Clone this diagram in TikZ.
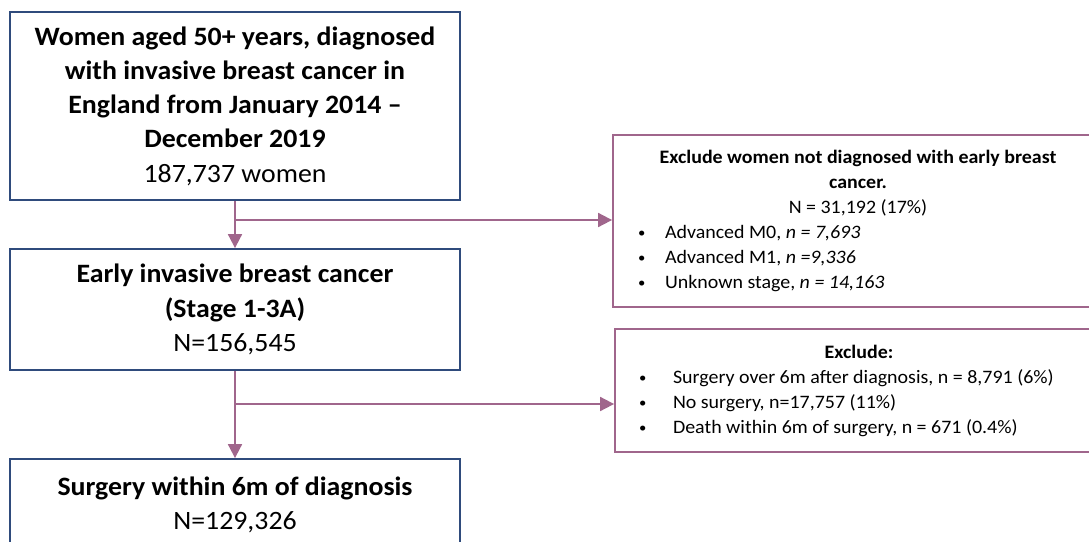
\documentclass[tikz,border=0pt]{standalone}
\usepackage{fontspec}
\setmainfont{Carlito}[FakeStretch=1.05]
\usepackage{tikz}
\usetikzlibrary{arrows.meta,positioning,calc}
\definecolor{boxblue}{HTML}{2F4B7C}
\definecolor{linkmauve}{HTML}{A0668C}
\newcommand{\bul}[3]{\par\noindent\hspace*{#1}\makebox[#2][l]{\raisebox{1pt}{\fontsize{14}{14}\selectfont\textbullet}}#3}

\begin{document}
\begin{tikzpicture}[
    x=1pt, y=-1pt,
    >={Triangle[length=14pt,width=14pt]},
    stage/.style={rectangle, draw=boxblue, line width=1.8pt, minimum width=450pt, align=center, inner sep=0pt, font=\fontsize{26.5}{34.3}\selectfont},
    exclude/.style={rectangle, draw=linkmauve, line width=1.8pt, inner sep=0pt, font=\fontsize{19}{25}\selectfont},
    link/.style={->, draw=linkmauve, line width=1.8pt}
]
\useasboundingbox (0,0) rectangle (1089,541);

% Cohort boxes
\node[stage, minimum height=188pt] (cohort) at (235,106) {\textbf{Women aged 50+ years, diagnosed}\\ \textbf{with invasive breast cancer in}\\ \textbf{England from January 2014 --}\\ \textbf{December 2019}\\ 187,737 women};
\node[stage, minimum height=121pt] (early) at (235,309.5) {\textbf{Early invasive breast cancer}\\ \textbf{(Stage 1-3A)}\\ N=156,545};
\node[stage, minimum height=92pt] (surgery) at (235,505) {\textbf{Surgery within 6m of diagnosis}\\ N=129,326};

% Exclusion boxes
\node[exclude, minimum width=490pt, minimum height=172pt] (notearly) at (858,221) {\parbox{490pt}{\centering\textbf{Exclude women not diagnosed with early breast\\ cancer.}\par N = 31,192 (17\%)\par\raggedright
    \bul{25pt}{27pt}{Advanced M0, \textit{n = 7,693}}
    \bul{25pt}{27pt}{Advanced M1, \textit{n =9,336}}
    \bul{25pt}{27pt}{Unknown stage, \textit{n = 14,163}}}};
\node[exclude, minimum width=488pt, minimum height=123pt] (nosurg) at (859,390.5) {\parbox{488pt}{\centering\textbf{Exclude:}\par\raggedright
    \bul{24pt}{34pt}{Surgery over 6m after diagnosis, n = 8,791 (6\%)}
    \bul{24pt}{34pt}{No surgery, n=17,757 (11\%)}
    \bul{24pt}{34pt}{Death within 6m of surgery, n = 671 (0.4\%)}}};

% Arrows
\coordinate (split1) at (235,220);
\coordinate (split2) at (235,404);
\draw[link] (cohort) -- (early);
\draw[link] (split1) -- (split1 -| notearly.west);
\draw[link] (early) -- (surgery);
\draw[link] (split2) -- (split2 -| nosurg.west);

\end{tikzpicture}
\end{document}
